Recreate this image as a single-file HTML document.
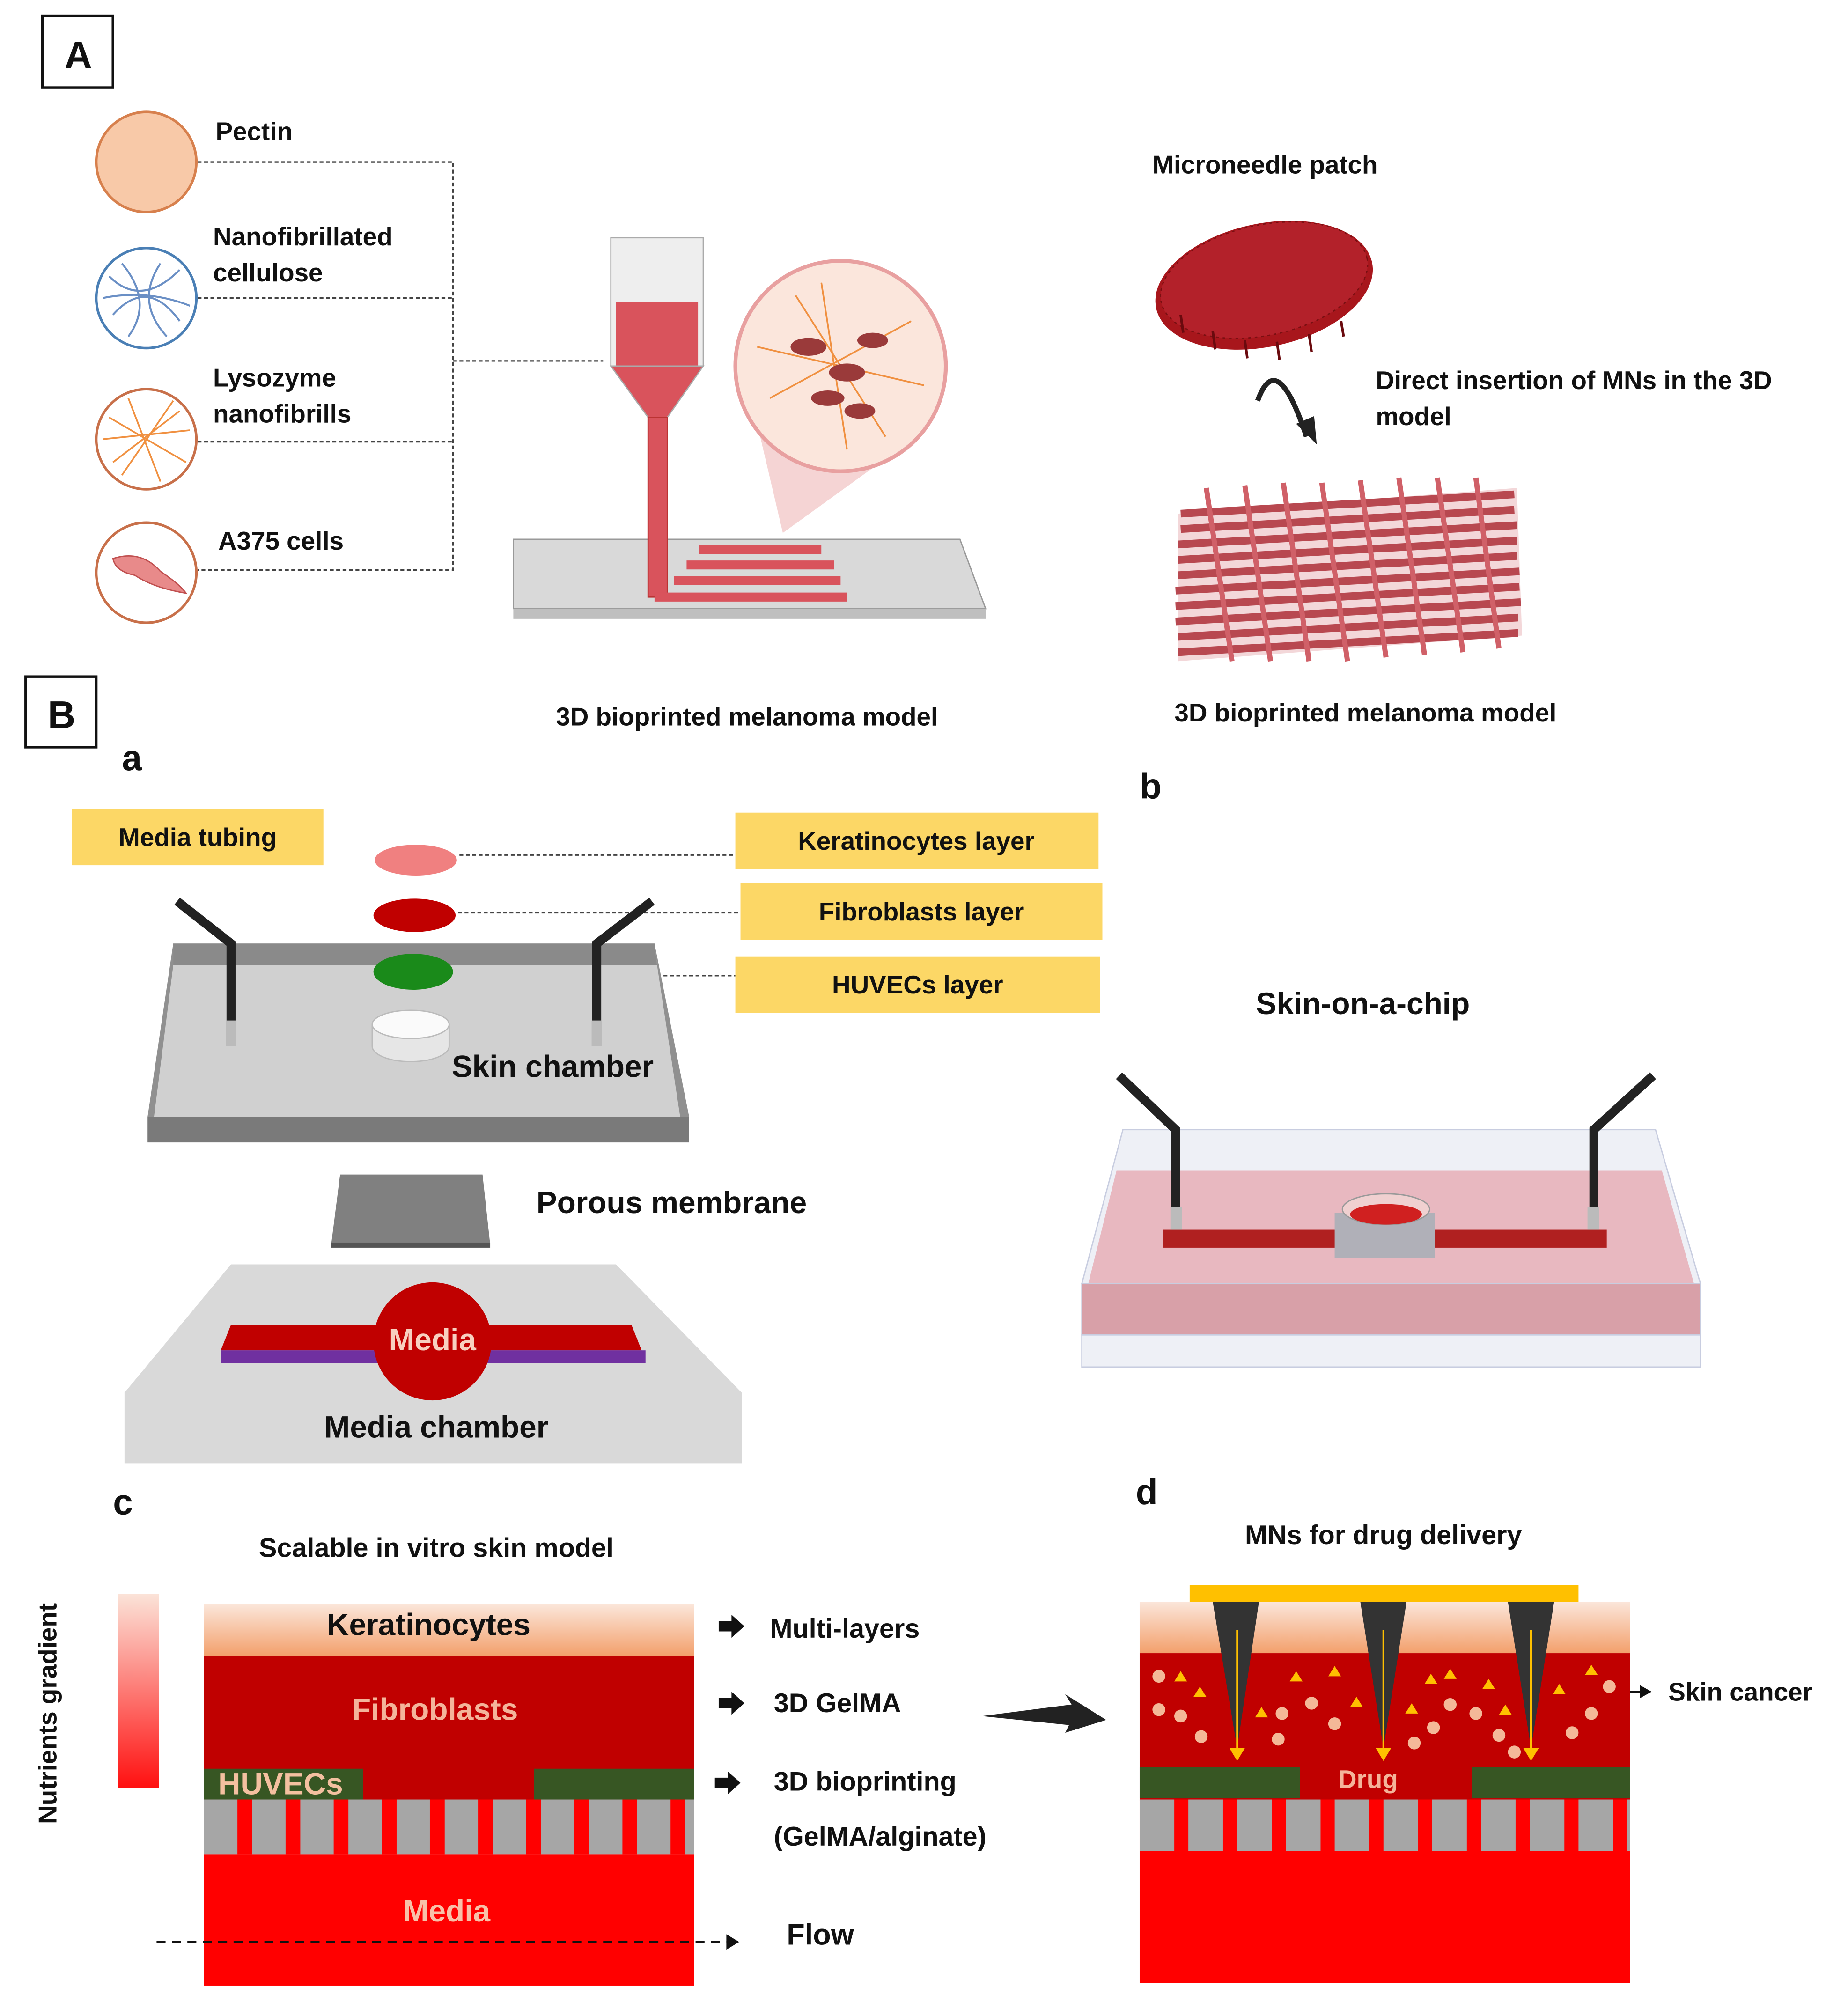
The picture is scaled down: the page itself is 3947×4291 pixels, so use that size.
<!DOCTYPE html>
<html><head><meta charset="utf-8"><style>
html,body{margin:0;padding:0;background:#fff}
svg{display:block}
text{font-family:"Liberation Sans",Arial,sans-serif;font-weight:bold;fill:#111}
</style></head><body>
<svg width="3947" height="4291" viewBox="0 0 1440 1565" xmlns="http://www.w3.org/2000/svg">
<defs>
<linearGradient id="ker" x1="0" y1="0" x2="0" y2="1"><stop offset="0" stop-color="#fbe6da"/><stop offset="1" stop-color="#f3a06c"/></linearGradient>
<linearGradient id="nut" x1="0" y1="0" x2="0" y2="1"><stop offset="0" stop-color="#fbe3d8"/><stop offset="1" stop-color="#ff1010"/></linearGradient>
<pattern id="por" x="159" y="0" width="37.5" height="50" patternUnits="userSpaceOnUse"><rect width="37.5" height="50" fill="#ff0000"/><rect x="0" width="26" height="50" fill="#a6a6a6"/></pattern>
<pattern id="por2" x="888" y="0" width="38" height="50" patternUnits="userSpaceOnUse"><rect width="38" height="50" fill="#ff0000"/><rect x="0" width="27" height="50" fill="#a6a6a6"/></pattern>
</defs>

<!-- A -->
<rect x="33" y="12" width="55" height="56" fill="none" stroke="#111" stroke-width="2"/>
<text x="61" y="53" font-size="30" text-anchor="middle">A</text>

<circle cx="114" cy="126" r="39" fill="#f8c9a8" stroke="#d7804d" stroke-width="2"/>
<circle cx="114" cy="232" r="39" fill="#fff" stroke="#4a7fb5" stroke-width="2"/>
<path d="M85,215 Q110,240 140,210 M88,245 Q115,215 140,250 M95,205 Q120,235 100,262 M125,205 Q105,235 130,262 M80,232 Q115,225 148,238" stroke="#6a8fc5" fill="none" stroke-width="1.5"/>
<circle cx="114" cy="342" r="39" fill="#fff" stroke="#c8704a" stroke-width="2"/>
<path d="M85,325 L145,360 M88,360 L140,320 M100,310 L125,375 M80,342 L148,335 M95,370 L135,312" stroke="#f09040" stroke-width="1.3"/>
<circle cx="114" cy="446" r="39" fill="#fff" stroke="#c8704a" stroke-width="2"/>
<path d="M88,435 Q110,428 125,445 Q140,455 145,462 Q120,458 105,448 Q90,445 88,435z" fill="#e88a8a" stroke="#c05050"/>

<text x="168" y="109" font-size="20">Pectin</text>
<text x="166" y="191" font-size="20">Nanofibrillated</text>
<text x="166" y="219" font-size="20">cellulose</text>
<text x="166" y="301" font-size="20">Lysozyme</text>
<text x="166" y="329" font-size="20">nanofibrills</text>
<text x="170" y="428" font-size="20">A375 cells</text>

<g stroke="#444" stroke-dasharray="3,2" stroke-width="1.2" fill="none">
<path d="M154,126 H353 V444 H154 M154,232 H353 M154,344 H353 M353,281 H470"/>
</g>

<!-- bioprinter -->
<polygon points="400,420 748,420 768,474 400,474" fill="#d9d9d9" stroke="#999"/>
<rect x="400" y="474" width="368" height="8" fill="#bfbfbf"/>
<rect x="476" y="185" width="72" height="100" fill="#eee" stroke="#aaa"/>
<rect x="480" y="235" width="64" height="50" fill="#d9535c"/>
<polygon points="476,285 548,285 520,325 505,325" fill="#d9535c" stroke="#aaa"/>
<rect x="505" y="325" width="15" height="140" fill="#d9535c" stroke="#b33"/>
<g fill="none" stroke="#d9535c" stroke-width="7">
<path d="M510,465 H660 M525,452 H655 M535,440 H650 M545,428 H640"/>
</g>
<polygon points="590,330 700,350 610,415" fill="#f2c9c9" opacity="0.8"/>
<circle cx="655" cy="285" r="82" fill="#fbe6dc" stroke="#e8a0a0" stroke-width="3"/>
<g stroke="#f09040" stroke-width="1.3"><path d="M590,270 L720,300 M600,310 L710,250 M620,230 L690,340 M640,220 L660,350"/></g>
<g fill="#9a3a3a"><ellipse cx="630" cy="270" rx="14" ry="7"/><ellipse cx="660" cy="290" rx="14" ry="7"/><ellipse cx="680" cy="265" rx="12" ry="6"/><ellipse cx="645" cy="310" rx="13" ry="6"/><ellipse cx="670" cy="320" rx="12" ry="6"/></g>
<text x="582" y="565" font-size="20" text-anchor="middle">3D bioprinted  melanoma model</text>

<!-- microneedle -->
<text x="898" y="135" font-size="20">Microneedle  patch</text>
<ellipse cx="985" cy="222" rx="86" ry="48" transform="rotate(-12 985 222)" fill="#a8161c"/>
<ellipse cx="985" cy="218" rx="82" ry="43" transform="rotate(-12 985 218)" fill="#b3212a" stroke="#7a0f12" stroke-dasharray="2,3"/>
<g stroke="#6a0a0e" stroke-width="2"><path d="M920,245 l2,14 M945,258 l2,14 M970,265 l2,14 M995,266 l2,14 M1020,260 l2,14 M1045,250 l2,12"/></g>
<path d="M980,312 Q995,270 1018,340" fill="none" stroke="#222" stroke-width="4"/>
<polygon points="1010,330 1026,346 1024,324" fill="#222"/>
<text x="1072" y="303" font-size="20">Direct insertion  of MNs in the 3D</text>
<text x="1072" y="331" font-size="20">model</text>
<polygon points="918,400 1182,380 1186,495 918,515" fill="#e8b0b4" opacity="0.5"/>
<g fill="none" stroke="#b84850" stroke-width="6">
<path d="M920,400 L1180,385 M920,412 L1180,397 M918,424 L1182,409 M918,436 L1182,421 M918,448 L1182,433 M916,460 L1184,445 M916,472 L1184,457 M916,484 L1185,469 M918,496 L1183,481 M918,508 L1183,493"/>
</g>
<g fill="none" stroke="#d06068" stroke-width="4">
<path d="M940,380 L960,515 M970,378 L990,515 M1000,376 L1020,515 M1030,376 L1050,515 M1060,374 L1080,512 M1090,372 L1110,510 M1120,372 L1140,508 M1150,372 L1168,505"/>
</g>
<text x="1064" y="562" font-size="20" text-anchor="middle">3D bioprinted  melanoma model</text>

<!-- B -->
<rect x="20" y="527" width="55" height="55" fill="none" stroke="#111" stroke-width="2"/>
<text x="48" y="567" font-size="30" text-anchor="middle">B</text>
<text x="95" y="600" font-size="28">a</text>
<text x="888" y="622" font-size="28">b</text>

<g fill="#fcd766">
<rect x="56" y="630" width="196" height="44"/>
<rect x="573" y="633" width="283" height="44"/>
<rect x="577" y="688" width="282" height="44"/>
<rect x="573" y="745" width="284" height="44"/>
</g>
<text x="154" y="659" font-size="20" text-anchor="middle">Media  tubing</text>
<text x="714" y="662" font-size="20" text-anchor="middle">Keratinocytes  layer</text>
<text x="718" y="717" font-size="20" text-anchor="middle">Fibroblasts  layer</text>
<text x="715" y="774" font-size="20" text-anchor="middle">HUVECs layer</text>
<g stroke="#444" stroke-dasharray="3,2" stroke-width="1.2"><path d="M358,666 H573 M357,711 H577 M357,760 H573"/></g>

<!-- chamber plate -->
<polygon points="135,735 510,735 537,870 115,870" fill="#d0d0d0"/>
<polygon points="135,735 510,735 512,752 135,752" fill="#8a8a8a"/>
<polygon points="115,870 537,870 537,890 115,890" fill="#7a7a7a"/>
<polygon points="135,752 120,870 115,870 135,735" fill="#909090"/>
<polygon points="510,735 537,870 530,870 512,752" fill="#909090"/>
<ellipse cx="324" cy="670" rx="32" ry="12" fill="#f08080"/>
<ellipse cx="323" cy="713" rx="32" ry="13" fill="#c00000"/>
<ellipse cx="322" cy="757" rx="31" ry="14" fill="#1a8a1a"/>
<path d="M290,798 V815 A30,12 0 0 0 350,815 V798" fill="#e6e6e6" stroke="#bbb"/>
<ellipse cx="320" cy="798" rx="30" ry="11" fill="#fafafa" stroke="#bbb"/>
<g stroke="#222" stroke-width="7" fill="none"><path d="M138,702 L180,735 V795 M508,702 L465,735 V795"/></g>
<rect x="176" y="795" width="8" height="20" fill="#bbb"/><rect x="461" y="795" width="8" height="20" fill="#bbb"/>
<text x="352" y="839" font-size="24">Skin chamber</text>

<polygon points="265,915 376,915 382,970 258,970" fill="#808080"/>
<rect x="258" y="968" width="124" height="4" fill="#555"/>
<text x="418" y="945" font-size="24">Porous membrane</text>

<polygon points="180,985 480,985 578,1085 578,1140 97,1140 97,1085" fill="#d9d9d9"/>
<polygon points="180,1032 492,1032 500,1052 172,1052" fill="#c00000"/>
<rect x="172" y="1052" width="331" height="10" fill="#7030a0"/>
<circle cx="337" cy="1045" r="46" fill="#c00000"/>
<text x="337" y="1052" font-size="24" text-anchor="middle" style="fill:#f8d0c0">Media</text>
<text x="340" y="1120" font-size="24" text-anchor="middle">Media chamber</text>

<!-- skin on chip -->
<text x="1062" y="790" font-size="24" text-anchor="middle">Skin-on-a-chip</text>
<polygon points="875,880 1290,880 1325,1000 843,1000" fill="#eef0f6" stroke="#c8cde0"/>
<polygon points="870,912 1295,912 1320,1000 848,1000" fill="#e8b8c0"/>
<rect x="843" y="1000" width="482" height="40" fill="#d8a0a8" stroke="#c8cde0"/>
<rect x="843" y="1040" width="482" height="25" fill="#eef0f6" stroke="#c8cde0"/>
<rect x="906" y="958" width="346" height="14" fill="#b02020"/>
<rect x="1040" y="945" width="78" height="35" fill="#b0b0b8"/>
<ellipse cx="1080" cy="942" rx="34" ry="12" fill="#f0d0d0" stroke="#999"/>
<ellipse cx="1080" cy="946" rx="28" ry="8" fill="#d02020"/>
<g stroke="#222" stroke-width="7" fill="none"><path d="M872,838 L916,880 V945 M1288,838 L1242,880 V945"/></g>
<rect x="912" y="940" width="9" height="18" fill="#bbb"/><rect x="1237" y="940" width="9" height="18" fill="#bbb"/>

<!-- c -->
<text x="88" y="1180" font-size="28">c</text>
<text x="340" y="1213" font-size="21" text-anchor="middle">Scalable in vitro skin model</text>
<text transform="translate(44,1335) rotate(-90)" font-size="20" text-anchor="middle">Nutrients gradient</text>
<rect x="92" y="1242" width="32" height="151" fill="url(#nut)"/>
<rect x="159" y="1250" width="382" height="40" fill="url(#ker)"/>
<rect x="159" y="1290" width="382" height="113" fill="#c00000"/>
<rect x="159" y="1378" width="124" height="24" fill="#375623"/>
<rect x="416" y="1378" width="125" height="24" fill="#375623"/>
<rect x="159" y="1402" width="382" height="43" fill="url(#por)"/>
<rect x="159" y="1445" width="382" height="102" fill="#ff0000"/>
<text x="334" y="1274" font-size="24" text-anchor="middle">Keratinocytes</text>
<text x="339" y="1340" font-size="24" text-anchor="middle" style="fill:#f4b49a">Fibroblasts</text>
<text x="170" y="1398" font-size="24" style="fill:#f4c0a0">HUVECs</text>
<text x="348" y="1497" font-size="24" text-anchor="middle" style="fill:#f8c0a8">Media</text>
<g fill="#111">
<polygon points="560,1263 570,1263 570,1258 580,1267 570,1276 570,1271 560,1271"/>
<polygon points="560,1323 570,1323 570,1318 580,1327 570,1336 570,1331 560,1331"/>
<polygon points="557,1385 567,1385 567,1380 577,1389 567,1398 567,1393 557,1393"/>
</g>
<text x="600" y="1276" font-size="21">Multi-layers</text>
<text x="603" y="1334" font-size="21">3D GelMA</text>
<text x="603" y="1395" font-size="21">3D bioprinting</text>
<text x="603" y="1438" font-size="21">(GelMA/alginate)</text>
<text x="613" y="1515" font-size="23">Flow</text>
<line x1="122" y1="1513" x2="568" y2="1513" stroke="#111" stroke-width="1.6" stroke-dasharray="7,5"/>
<polygon points="566,1507 576,1513 566,1519" fill="#111"/>
<polygon points="765,1337 835,1328 830,1320 862,1340 830,1350 833,1344" fill="#222"/>

<!-- d -->
<text x="885" y="1172" font-size="28">d</text>
<text x="1078" y="1203" font-size="21" text-anchor="middle">MNs for drug delivery</text>
<rect x="927" y="1235" width="303" height="13" fill="#ffc000"/>
<rect x="888" y="1248" width="382" height="40" fill="url(#ker)"/>
<rect x="888" y="1288" width="382" height="115" fill="#c00000"/>
<rect x="888" y="1377" width="125" height="24" fill="#375623"/>
<rect x="1147" y="1377" width="123" height="24" fill="#375623"/>
<rect x="888" y="1402" width="382" height="40" fill="url(#por2)"/>
<rect x="888" y="1442" width="382" height="103" fill="#ff0000"/>
<text x="1066" y="1393" font-size="20" text-anchor="middle" style="fill:#f4b49a">Drug</text>
<g fill="#333">
<polygon points="945,1248 981,1248 964,1362"/>
<polygon points="1060,1248 1096,1248 1078,1362"/>
<polygon points="1175,1248 1211,1248 1193,1362"/>
</g>
<g fill="#f4b898">
<circle cx="903" cy="1306" r="5"/><circle cx="903" cy="1332" r="5"/><circle cx="920" cy="1337" r="5"/><circle cx="936" cy="1353" r="5"/>
<circle cx="999" cy="1335" r="5"/><circle cx="996" cy="1355" r="5"/><circle cx="1022" cy="1327" r="5"/><circle cx="1040" cy="1343" r="5"/>
<circle cx="1102" cy="1358" r="5"/><circle cx="1117" cy="1346" r="5"/><circle cx="1130" cy="1328" r="5"/><circle cx="1150" cy="1335" r="5"/>
<circle cx="1168" cy="1352" r="5"/><circle cx="1180" cy="1365" r="5"/><circle cx="1225" cy="1350" r="5"/><circle cx="1240" cy="1335" r="5"/><circle cx="1254" cy="1314" r="5"/>
</g>
<g fill="#ffc000">
<polygon points="915,1310 925,1310 920,1302"/><polygon points="930,1322 940,1322 935,1314"/><polygon points="978,1338 988,1338 983,1330"/>
<polygon points="1005,1310 1015,1310 1010,1302"/><polygon points="1035,1306 1045,1306 1040,1298"/><polygon points="1052,1330 1062,1330 1057,1322"/>
<polygon points="1095,1335 1105,1335 1100,1327"/><polygon points="1110,1312 1120,1312 1115,1304"/><polygon points="1125,1308 1135,1308 1130,1300"/>
<polygon points="1155,1316 1165,1316 1160,1308"/><polygon points="1168,1336 1178,1336 1173,1328"/><polygon points="1210,1320 1220,1320 1215,1312"/><polygon points="1235,1305 1245,1305 1240,1297"/>
</g>
<g stroke="#ffc000" stroke-width="1.5"><path d="M964,1270 V1362 M1078,1270 V1362 M1193,1270 V1362"/></g>
<g fill="#ffc000"><polygon points="958,1362 970,1362 964,1372"/><polygon points="1072,1362 1084,1362 1078,1372"/><polygon points="1187,1362 1199,1362 1193,1372"/></g>
<line x1="1270" y1="1318" x2="1280" y2="1318" stroke="#111" stroke-width="1.5"/>
<polygon points="1278,1313 1287,1318 1278,1323" fill="#111"/>
<text x="1300" y="1325" font-size="20">Skin cancer</text>
</svg>
</body></html>
